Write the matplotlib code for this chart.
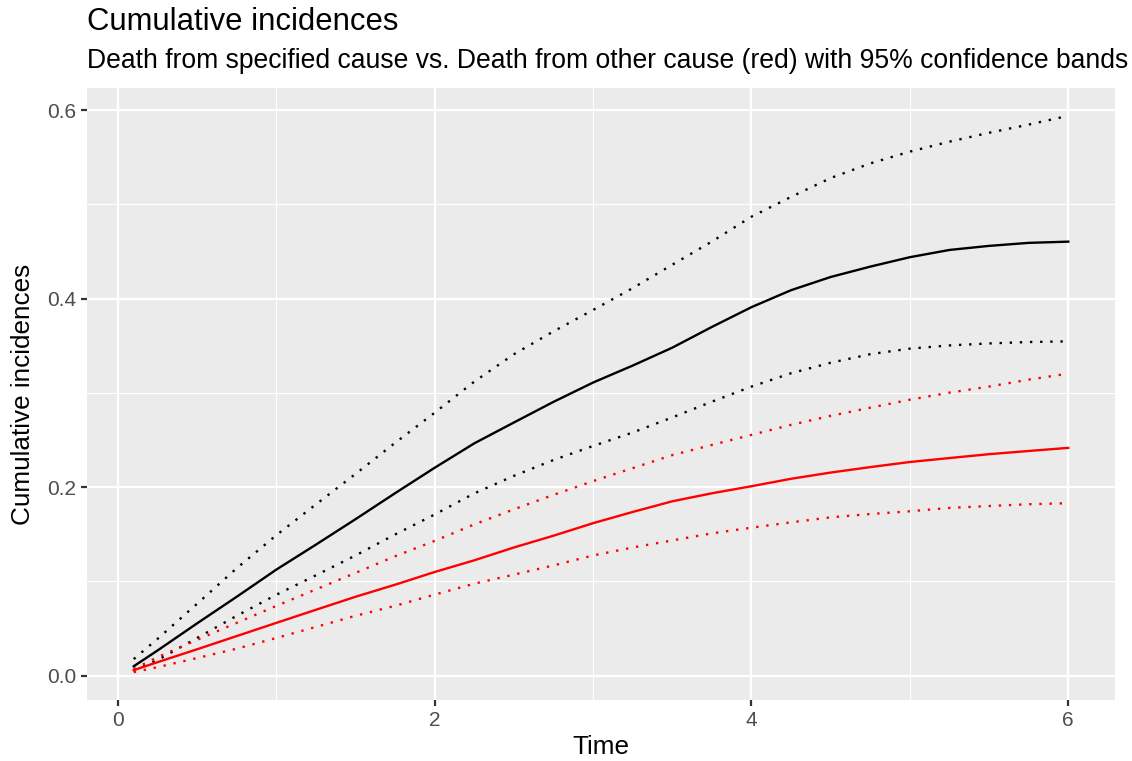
import matplotlib
matplotlib.use("Agg")
import matplotlib.pyplot as plt
from matplotlib.ticker import MultipleLocator

plt.rcParams["font.family"] = ["Liberation Sans", "DejaVu Sans"]

# Evaluation times
time = [0.1, 0.25, 0.5, 0.75, 1.0, 1.25, 1.5, 1.75, 2.0, 2.25, 2.5, 2.75, 3.0,
        3.25, 3.5, 3.75, 4.0, 4.25, 4.5, 4.75, 5.0, 5.25, 5.5, 5.75, 6.0]

# Death from specified cause: estimate and 95% band
cause_est = [0.010, 0.0267, 0.0555, 0.0837, 0.1125, 0.139, 0.166, 0.1936, 0.2206,
             0.2465, 0.2686, 0.2905, 0.311, 0.329, 0.348, 0.3700, 0.391, 0.409,
             0.423, 0.434, 0.444, 0.4517, 0.456, 0.4592, 0.4605]
cause_hi = [0.0176, 0.039, 0.0763, 0.114, 0.149, 0.1817, 0.214, 0.247, 0.279,
            0.312, 0.341, 0.3653, 0.388, 0.4112, 0.436, 0.4606, 0.487, 0.508,
            0.528, 0.5435, 0.556, 0.5666, 0.576, 0.5847, 0.594]
cause_lo = [0.006, 0.0165, 0.040, 0.0635, 0.0858, 0.1065, 0.1275, 0.1498, 0.171,
            0.1934, 0.212, 0.2288, 0.2437, 0.258, 0.274, 0.2907, 0.3067, 0.3209,
            0.332, 0.3411, 0.347, 0.3504, 0.3525, 0.354, 0.3547]

# Death from other cause: estimate and 95% band
other_est = [0.0059, 0.0143, 0.028, 0.042, 0.056, 0.0699, 0.0837, 0.0965, 0.110,
             0.1224, 0.136, 0.1485, 0.1618, 0.1737, 0.185, 0.1935, 0.201, 0.2089,
             0.2155, 0.2213, 0.2267, 0.2309, 0.235, 0.2384, 0.2417]
other_hi = [0.007, 0.0196, 0.038, 0.056, 0.074, 0.0915, 0.109, 0.1267, 0.143,
            0.1605, 0.1765, 0.1918, 0.2064, 0.2202, 0.234, 0.2448, 0.2555, 0.2661,
            0.2757, 0.2843, 0.2928, 0.3003, 0.3067, 0.3141, 0.3205]
other_lo = [0.0037, 0.009, 0.0187, 0.0286, 0.040, 0.0517, 0.0635, 0.0741, 0.086,
            0.0976, 0.1072, 0.117, 0.1275, 0.136, 0.1435, 0.151, 0.157, 0.1627,
            0.168, 0.1715, 0.1744, 0.178, 0.180, 0.1819, 0.183]

x_ticks = [0, 2, 4, 6]
y_ticks = [0.0, 0.2, 0.4, 0.6]

W, H = 1132, 761
fig = plt.figure(figsize=(W / 100, H / 100), dpi=100)
ax = fig.add_axes([87 / W, 1 - 700 / H, (1115 - 87) / W, (700 - 88) / H])

ax.set_facecolor("#EBEBEB")
for s in ax.spines.values():
    s.set_visible(False)

ax.xaxis.set_major_locator(MultipleLocator(2))
ax.xaxis.set_minor_locator(MultipleLocator(1))
ax.yaxis.set_major_locator(MultipleLocator(0.2))
ax.yaxis.set_minor_locator(MultipleLocator(0.1))
ax.grid(which="major", color="white", linewidth=1.6)
ax.grid(which="minor", color="white", linewidth=0.8)
ax.set_axisbelow(True)

ax.set_xticks(x_ticks)
ax.set_xticklabels([str(v) for v in x_ticks])
ax.set_yticks(y_ticks)
ax.set_yticklabels([f"{v:.1f}" for v in y_ticks])
ax.tick_params(which="major", length=4.3, width=1.6, color="#333333",
               labelcolor="#4D4D4D", labelsize=15, pad=3.5)
ax.tick_params(which="minor", length=0)

solid_lw = 1.7
dot_kw = dict(linewidth=1.7, linestyle=(0, (1, 3.3)), dash_capstyle="butt")

ax.plot(time, cause_hi, color="black", **dot_kw)
ax.plot(time, cause_lo, color="black", **dot_kw)
ax.plot(time, other_hi, color="red", **dot_kw)
ax.plot(time, other_lo, color="red", **dot_kw)
ax.plot(time, cause_est, color="black", linewidth=solid_lw)
ax.plot(time, other_est, color="red", linewidth=solid_lw)

# 5% expansion of the data range on both axes
xmin, xmax = min(time), max(time)
ymin, ymax = min(other_lo), max(cause_hi)
dx = 0.05 * (xmax - xmin)
dy = 0.05 * (ymax - ymin)
ax.set_xlim(xmin - dx, xmax + dx)
ax.set_ylim(ymin - dy, ymax + dy)

fig.text((87 + 1115) / 2 / W, 1 - 747 / H, "Time", fontsize=18.8,
         ha="center", va="center")
fig.text(23 / W, 1 - 394 / H, "Cumulative incidences", fontsize=18.8,
         rotation=90, ha="center", va="center")

fig.text(87 / W, 1 - 30 / H, "Cumulative incidences", fontsize=22.3,
         ha="left", va="baseline")
fig.text(87 / W, 1 - 68 / H,
         "Death from specified cause vs. Death from other cause (red) with 95% confidence bands",
         fontsize=19.1, ha="left", va="baseline")

fig.savefig("out.png", dpi=100)
